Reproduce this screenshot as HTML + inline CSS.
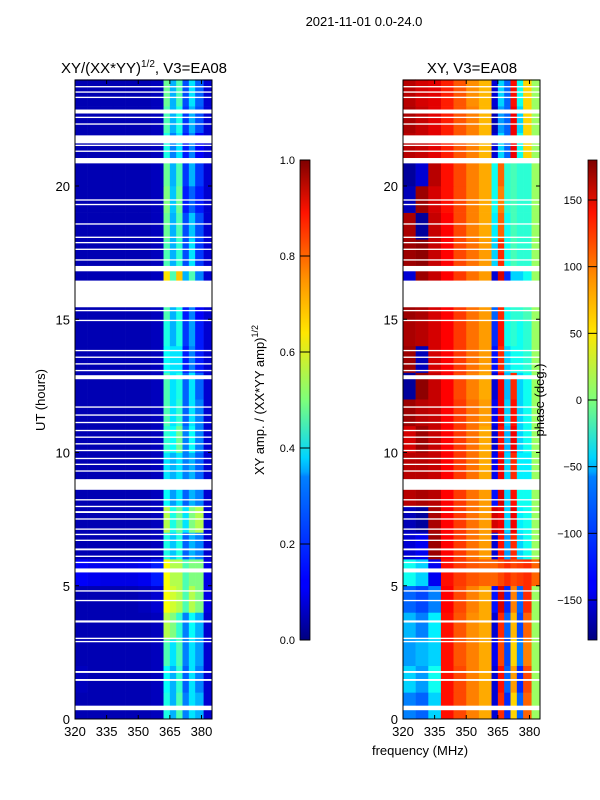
<!DOCTYPE html>
<html><head><meta charset="utf-8">
<style>
html,body{margin:0;padding:0;background:#fff;}
svg{display:block;font-family:"Liberation Sans","DejaVu Sans",sans-serif;}
</style></head>
<body>
<svg id="fig" width="600" height="800" viewBox="0 0 600 800">
<defs>
<linearGradient id="jet" x1="0" y1="1" x2="0" y2="0">
<stop offset="0" stop-color="#00007f"/><stop offset="0.11" stop-color="#0000ff"/>
<stop offset="0.125" stop-color="#0000ff"/><stop offset="0.34" stop-color="#0080ff"/>
<stop offset="0.35" stop-color="#00a4ff"/><stop offset="0.38" stop-color="#00d4ff"/>
<stop offset="0.5" stop-color="#7dff7a"/><stop offset="0.64" stop-color="#ffe600"/>
<stop offset="0.75" stop-color="#ff9400"/><stop offset="0.89" stop-color="#ff1300"/>
<stop offset="1" stop-color="#7f0000"/>
</linearGradient>
</defs>
<text x="364" y="26" font-size="13" text-anchor="middle">2021-11-01 0.0-24.0</text>
<text x="144" y="73" font-size="15" text-anchor="middle">XY/(XX*YY)<tspan font-size="10" dy="-6">1/2</tspan><tspan dy="6">, V3=EA08</tspan></text>
<text x="472" y="73" font-size="15" text-anchor="middle">XY, V3=EA08</text>
<g id="ampPanel"></g>
<g id="phasePanel"></g>
<g id="axes"></g>
<text transform="translate(45,400) rotate(-90)" font-size="13" text-anchor="middle">UT (hours)</text>
<text x="420" y="755" font-size="13" text-anchor="middle">frequency (MHz)</text>
<text transform="translate(264,400) rotate(-90)" font-size="13" text-anchor="middle">XY amp. / (XX*YY amp)<tspan font-size="9" dy="-6">1/2</tspan></text>
<text transform="translate(544,400) rotate(-90)" font-size="13" text-anchor="middle">phase (deg.)</text>
<rect x="300" y="160" width="10" height="480" fill="url(#jet)" stroke="#000" stroke-width="0.8"/>
<rect x="588" y="160" width="9" height="480" fill="url(#jet)" stroke="#000" stroke-width="0.8"/>
<g id="cbticks"></g>
</svg>
<script>
// ---- data ----
const freqEdges = [320,326,332,338,344,350,356,362,365,368,371,374,377,381,385];
const timeStarts = [0,1,2,3,4,5,6,7,8,9,10,11,12,13,14,15,16,17,18,19,20,21,22,23];
const ampRows = [
[0.05,0.05,0.05,0.05,0.05,0.05,0.06,0.40,0.30,0.45,0.25,0.35,0.30,0.08],
[0.06,0.05,0.05,0.05,0.05,0.05,0.06,0.38,0.30,0.42,0.22,0.35,0.25,0.08],
[0.05,0.05,0.05,0.05,0.05,0.05,0.06,0.45,0.35,0.45,0.25,0.35,0.28,0.08],
[0.05,0.05,0.05,0.05,0.05,0.05,0.06,0.55,0.50,0.42,0.25,0.38,0.30,0.08],
[0.05,0.05,0.05,0.05,0.05,0.06,0.08,0.62,0.58,0.55,0.45,0.55,0.50,0.10],
[0.12,0.11,0.10,0.10,0.10,0.11,0.15,0.62,0.55,0.55,0.45,0.50,0.50,0.10],
[0.05,0.05,0.05,0.05,0.05,0.05,0.06,0.40,0.32,0.40,0.22,0.30,0.25,0.08],
[0.05,0.05,0.05,0.05,0.05,0.05,0.06,0.55,0.40,0.48,0.35,0.50,0.55,0.08],
[0.05,0.05,0.05,0.05,0.05,0.05,0.06,0.38,0.28,0.35,0.22,0.30,0.25,0.08],
[0.05,0.05,0.05,0.05,0.05,0.05,0.06,0.35,0.30,0.35,0.25,0.30,0.22,0.08],
[0.05,0.05,0.05,0.05,0.05,0.05,0.06,0.42,0.38,0.48,0.25,0.38,0.25,0.08],
[0.05,0.05,0.05,0.05,0.05,0.05,0.06,0.45,0.35,0.42,0.22,0.35,0.25,0.08],
[0.05,0.05,0.05,0.05,0.05,0.05,0.06,0.45,0.35,0.40,0.22,0.35,0.22,0.08],
[0.05,0.05,0.05,0.05,0.05,0.05,0.06,0.38,0.35,0.35,0.15,0.25,0.15,0.08],
[0.05,0.05,0.05,0.05,0.05,0.05,0.06,0.40,0.30,0.40,0.18,0.28,0.15,0.08],
[0.05,0.05,0.05,0.05,0.05,0.05,0.06,0.45,0.30,0.40,0.15,0.25,0.12,0.08],
[0.05,0.05,0.05,0.05,0.05,0.05,0.06,0.65,0.45,0.68,0.30,0.45,0.25,0.08],
[0.05,0.05,0.05,0.05,0.05,0.05,0.06,0.45,0.30,0.42,0.20,0.35,0.18,0.08],
[0.05,0.05,0.05,0.05,0.05,0.05,0.06,0.48,0.30,0.45,0.20,0.32,0.20,0.08],
[0.05,0.05,0.05,0.05,0.05,0.05,0.06,0.50,0.32,0.48,0.15,0.22,0.15,0.08],
[0.05,0.05,0.05,0.05,0.05,0.05,0.06,0.48,0.30,0.45,0.18,0.30,0.18,0.08],
[0.05,0.05,0.05,0.05,0.05,0.05,0.06,0.40,0.25,0.35,0.15,0.25,0.12,0.08],
[0.05,0.05,0.05,0.05,0.05,0.05,0.06,0.45,0.30,0.40,0.18,0.30,0.20,0.08],
[0.05,0.05,0.05,0.05,0.05,0.05,0.06,0.48,0.30,0.45,0.20,0.35,0.22,0.08]
];
const phaseRows = [
[-90,-100,-60,130,110,90,75,-150,120,-120,60,-100,100,10],
[-60,-80,-40,130,110,90,75,-150,130,-100,80,-120,110,10],
[-80,-70,-60,130,105,90,75,-140,110,-110,60,-90,90,10],
[-70,-90,-50,130,105,85,75,-150,120,-100,70,-110,100,10],
[-100,-110,-90,135,110,90,75,-130,150,-120,90,-100,120,10],
[-40,-60,-140,130,115,105,100,100,110,120,110,115,120,100],
[-150,-140,170,135,115,95,80,-150,130,-80,120,-60,-40,10],
[-160,-170,165,135,115,95,80,150,140,-60,140,-50,-40,10],
[160,165,160,135,115,95,80,-130,150,-60,130,-40,-40,10],
[160,160,155,135,115,95,75,-140,140,-60,120,-50,-50,10],
[150,170,155,135,115,95,75,-150,130,-70,140,-60,-40,10],
[170,160,155,135,115,95,80,-140,140,-60,130,-60,-40,10],
[-170,175,155,135,110,90,75,-150,140,-70,120,-60,-40,10],
[170,-160,150,135,115,95,80,-130,120,-60,-40,-40,-30,10],
[165,160,150,135,115,95,80,-120,130,-40,-30,-40,-30,10],
[170,165,150,135,115,95,80,-100,120,-40,-30,-30,-20,10],
[-150,170,155,135,115,95,80,-150,150,-120,-60,-60,-40,10],
[170,175,155,135,110,95,80,-60,120,-40,-20,-30,-30,10],
[165,-170,155,135,110,90,75,-50,100,-40,-20,-30,-30,10],
[-160,170,150,130,110,90,75,-40,90,-30,-20,-30,-30,10],
[-170,-150,160,130,110,90,75,-40,100,-30,-20,-30,-30,10],
[160,155,145,125,105,90,70,-150,-60,-100,140,-40,60,10],
[165,155,145,125,105,90,70,-160,-80,-100,140,-60,60,10],
[160,150,145,125,105,85,70,-150,-60,-100,130,-40,60,10]
];
const gaps = [[0.33,0.5],[1.43,1.5],[1.73,1.8],[2.88,2.93],[3.0,3.05],[3.62,3.7],[4.42,4.47],[4.78,4.83],[5.5,5.65],[5.85,5.9],[6.08,6.13],[6.33,6.4],[6.68,6.73],[6.9,6.95],[7.1,7.15],[7.48,7.53],[7.73,7.8],[7.95,8.0],[8.2,8.25],[8.6,9.0],[9.28,9.33],[9.53,9.58],[9.75,9.8],[10.05,10.1],[10.3,10.35],[10.55,10.6],[10.8,10.85],[11.1,11.15],[11.38,11.43],[11.68,11.73],[12.75,12.9],[13.05,13.1],[13.3,13.35],[13.55,13.6],[13.8,13.85],[14.93,14.98],[15.3,15.35],[15.45,16.45],[16.8,17.0],[17.2,17.25],[17.6,17.65],[17.85,17.9],[18.05,18.1],[18.55,18.6],[19.28,19.33],[19.45,19.5],[20.85,21.05],[21.28,21.33],[21.5,21.55],[21.6,21.9],[22.3,22.35],[22.55,22.6],[22.72,22.87],[23.3,23.35],[23.5,23.55],[23.7,23.75]];
const yTicks = [0,5,10,15,20];
const xTicks = [320,335,350,365,380];
const ampTicks = [0.0,0.2,0.4,0.6,0.8,1.0];
const phaseTicks = [-150,-100,-50,0,50,100,150];

// ---- scales ----
const Y0 = 719, PXH = 26.65;
const yS = h => Y0 - h*PXH;
const xS = (f, x0) => x0 + (f-320)*2.108;
const panels = [{x0:75, id:'ampPanel', rows:ampRows, norm:v=>v},
                {x0:403, id:'phasePanel', rows:phaseRows, norm:v=>(v+180)/360}];
function jet(t){
  t=Math.max(0,Math.min(1,t));
  const r=Math.min(4*t-1.5,-4*t+4.5), g=Math.min(4*t-0.5,-4*t+3.5), b=Math.min(4*t+0.5,-4*t+2.5);
  const c=v=>Math.round(255*Math.max(0,Math.min(1,v)));
  return `rgb(${c(r)},${c(g)},${c(b)})`;
}
const NS='http://www.w3.org/2000/svg';
function mk(tag, attrs, parent){const e=document.createElementNS(NS,tag);for(const k in attrs)e.setAttribute(k,attrs[k]);parent.appendChild(e);return e;}
const W = 137;
panels.forEach(p=>{
  const g=document.getElementById(p.id);
  timeStarts.forEach((t,i)=>{
    for(let j=0;j<freqEdges.length-1;j++){
      const x1=xS(freqEdges[j],p.x0), x2=Math.min(xS(freqEdges[j+1],p.x0),p.x0+W);
      const r=mk('rect',{x:x1,y:yS(t+1),width:x2-x1+0.3,height:PXH+0.3,fill:jet(p.norm(p.rows[i][j]))},g);
      
      
    }
  });
  gaps.forEach(gp=>{
    const r=mk('rect',{x:p.x0,y:yS(gp[1]),width:W,height:Math.max(1.2,(gp[1]-gp[0])*PXH),fill:'#fff'},g);
    
    
  });
});
const ax=document.getElementById('axes');
panels.forEach(p=>{
  const f=mk('rect',{x:p.x0,y:80,width:W,height:639,fill:'none',stroke:'#000','stroke-width':1},ax);
  
  
  yTicks.forEach(v=>{
    const y=yS(v);
    mk('line',{x1:p.x0,x2:p.x0+4,y1:y,y2:y,stroke:'#000'},ax);
    mk('line',{x1:p.x0+W-4,x2:p.x0+W,y1:y,y2:y,stroke:'#000'},ax);
    const t=mk('text',{x:p.x0-5,y:y+5,'font-size':13,'text-anchor':'end'},ax);
    t.textContent=v;
    
    
  });
  xTicks.forEach(v=>{
    const x=xS(v,p.x0);
    mk('line',{x1:x,x2:x,y1:719,y2:715,stroke:'#000'},ax);
    mk('line',{x1:x,x2:x,y1:80,y2:84,stroke:'#000'},ax);
    const t=mk('text',{x:x,y:736,'font-size':13,'text-anchor':'middle'},ax);
    t.textContent=v;
    
    
  });
});
const cb=document.getElementById('cbticks');
ampTicks.forEach(v=>{
  const y=640-v*480;
  mk('line',{x1:300,x2:310,y1:y,y2:y,stroke:'#000'},cb);
  const t=mk('text',{x:295,y:y+4,'font-size':11,'text-anchor':'end'},cb);
  t.textContent=v.toFixed(1);
  
  
});
phaseTicks.forEach(v=>{
  const y=640-(v+180)/360*480;
  mk('line',{x1:588,x2:597,y1:y,y2:y,stroke:'#000'},cb);
  const t=mk('text',{x:582,y:y+4,'font-size':11,'text-anchor':'end'},cb);
  t.textContent=v===0?'0':(v<0?'\u2212'+(-v):v);
  
  
});
</script>
</body></html>
